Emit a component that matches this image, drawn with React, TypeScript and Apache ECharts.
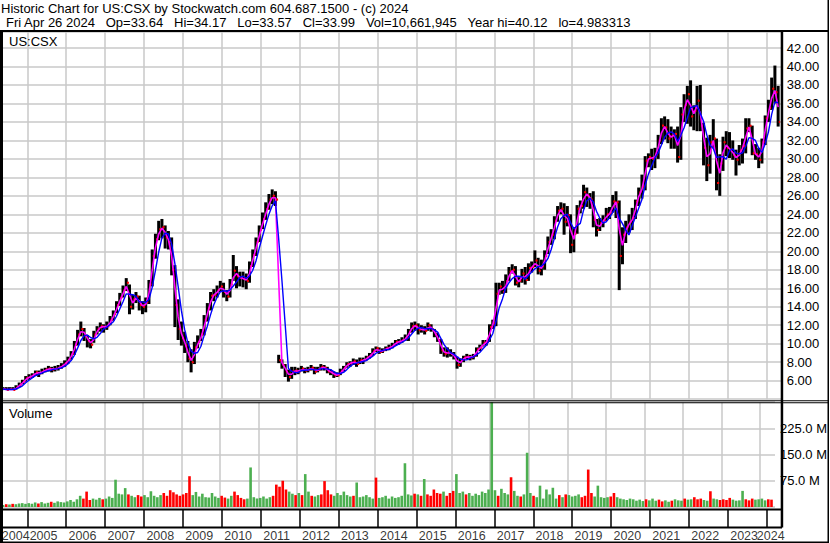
import React, { useEffect, useRef } from 'react';
import * as echarts from 'echarts';

// ---- data (monthly bars, May 2004 .. Apr 2024) ----
const FIRST_MONTH = 2004 + 4 / 12; // May 2004
const AXIS_MIN = 2004.375;
const AXIS_MAX = 2024.383;

const closes = [
  5.1, 5.0, 5.1, 5.0, 5.3, 5.6, 5.9, 6.3,
  6.4, 6.6, 6.9, 6.8, 7.0, 7.2, 7.3, 7.2, 7.3, 7.4, 7.6, 7.9,
  8.3, 8.9, 9.9, 11.0, 11.6, 10.9, 10.3, 9.9, 11.0, 11.6, 11.9, 11.8,
  11.9, 12.6, 13.2, 14.2, 15.0, 15.8, 16.6, 14.0, 14.8, 15.1, 14.2, 14.0,
  14.5, 16.4, 19.5, 21.3, 22.4, 22.6, 21.5, 21.0, 18.0, 14.2, 11.6, 10.6,
  9.8, 8.4, 8.0, 9.6, 10.2, 11.0, 12.6, 13.8, 15.2, 15.3, 15.8, 16.2,
  15.6, 15.1, 16.4, 17.9, 17.3, 17.1, 17.0, 16.8, 18.4, 19.6, 21.0, 22.3,
  23.5, 24.6, 25.6, 26.0, 25.6, 8.2, 7.7, 7.0, 6.4, 7.0, 7.1, 7.0,
  7.3, 7.1, 7.2, 7.4, 7.0, 7.2, 7.5, 7.4, 7.0, 6.9, 6.6, 6.6,
  7.0, 7.4, 7.8, 7.9, 8.1, 7.8, 8.2, 8.2, 8.5, 8.7, 9.2, 9.5,
  9.1, 9.3, 9.5, 9.6, 9.8, 10.2, 10.2, 10.4, 10.6, 11.3, 11.9, 12.0,
  11.5, 11.6, 11.4, 12.0, 11.6, 11.0, 10.4, 9.3, 8.9, 9.1, 8.9, 8.6,
  7.7, 8.2, 8.5, 8.6, 8.5, 8.7, 9.4, 9.6, 10.1, 10.2, 11.8, 12.2,
  15.4, 16.2, 15.6, 16.8, 17.8, 18.0, 16.6, 16.8, 17.6, 16.9, 18.2, 18.3,
  19.0, 17.9, 18.4, 19.5, 21.0, 21.8, 23.3, 24.4, 24.6, 23.2, 23.9, 20.7,
  21.9, 24.6, 24.9, 26.4, 26.0, 25.6, 23.4, 22.3, 23.1, 23.4, 24.0, 24.1,
  25.4, 25.3, 19.5, 21.8, 22.6, 23.2, 23.6, 25.4, 26.4, 27.0, 29.8, 30.2,
  30.0, 30.4, 32.0, 33.6, 33.4, 32.2, 32.5, 32.7, 30.2, 34.8, 35.8, 37.0,
  34.6, 35.2, 36.3, 33.6, 31.2, 29.3, 31.8, 32.2, 27.4, 29.5, 31.8, 31.2,
  31.0, 30.4, 29.9, 30.9, 31.4, 33.3, 33.6, 30.6, 30.5, 29.9, 31.8, 34.4,
  35.5, 37.6, 37.2, 34.0,
];

const highs = [
  5.3, 5.3, 5.3, 5.3, 5.5, 5.8, 6.1, 6.5,
  6.7, 6.8, 7.1, 7.1, 7.3, 7.4, 7.6, 7.5, 7.6, 7.7, 7.9, 8.2,
  8.6, 9.2, 10.3, 11.5, 12.4, 11.7, 10.9, 10.5, 11.4, 11.9, 12.3, 12.1,
  12.4, 13.0, 13.6, 14.6, 15.5, 16.3, 17.1, 16.4, 15.3, 15.6, 15.2, 14.6,
  15.0, 16.9, 20.2, 21.9, 23.3, 23.5, 22.8, 22.2, 21.5, 18.5, 14.8, 12.4,
  11.3, 10.3, 9.4, 10.2, 10.9, 11.6, 13.1, 14.4, 15.6, 15.9, 16.3, 16.8,
  16.6, 15.8, 17.0, 19.6, 18.4, 17.8, 17.8, 17.6, 18.9, 20.2, 21.5, 22.8,
  24.2, 25.3, 26.2, 26.7, 26.5, 8.8, 8.3, 7.8, 7.2, 7.5, 7.5, 7.4,
  7.6, 7.4, 7.5, 7.7, 7.5, 7.5, 7.8, 7.7, 7.5, 7.2, 7.0, 6.9,
  7.3, 7.6, 8.0, 8.1, 8.4, 8.3, 8.5, 8.5, 8.7, 9.0, 9.5, 9.7,
  9.6, 9.5, 9.7, 9.9, 10.1, 10.4, 10.5, 10.7, 11.0, 11.6, 12.3, 12.4,
  12.2, 12.0, 11.9, 12.3, 12.1, 11.6, 11.2, 10.5, 9.6, 9.6, 9.4, 9.1,
  8.6, 8.4, 8.7, 8.9, 8.8, 8.9, 9.6, 9.9, 10.4, 10.4, 12.1, 12.6,
  16.6, 16.6, 16.8, 17.5, 18.3, 18.6, 18.4, 17.2, 18.1, 18.3, 18.7, 18.9,
  20.1, 19.3, 19.1, 20.1, 21.6, 22.4, 23.8, 24.9, 25.3, 25.2, 24.9, 24.0,
  22.6, 25.0, 25.5, 27.2, 26.9, 26.3, 26.5, 23.5, 23.6, 23.9, 24.7, 24.8,
  26.1, 26.5, 25.5, 22.6, 23.3, 24.0, 24.7, 25.6, 26.9, 28.3, 30.3, 30.6,
  31.1, 31.2, 32.6, 34.4, 34.6, 34.3, 33.5, 33.2, 33.5, 35.6, 37.0, 37.9,
  38.5, 35.8, 37.9, 38.0, 33.9, 32.3, 32.6, 34.3, 32.2, 30.5, 32.4, 33.0,
  32.9, 32.0, 31.0, 31.5, 32.2, 34.4, 34.4, 33.6, 31.6, 31.2, 32.2, 34.7,
  36.4, 38.8, 40.1, 37.9,
];

const lows = [
  4.98, 4.99, 5.0, 4.99, 5.05, 5.3, 5.6, 5.9,
  6.1, 6.3, 6.5, 6.4, 6.7, 6.9, 7.0, 6.9, 7.0, 7.1, 7.3, 7.5,
  7.8, 8.3, 8.8, 9.8, 10.8, 10.3, 9.6, 9.5, 10.1, 11.0, 11.3, 11.2,
  11.5, 12.0, 12.5, 13.3, 14.1, 15.0, 15.7, 13.2, 13.7, 14.4, 13.6, 13.2,
  13.4, 14.3, 16.2, 19.2, 21.2, 21.4, 20.3, 20.2, 17.4, 11.8, 10.4, 9.8,
  9.0, 8.0, 6.9, 7.8, 9.5, 10.3, 10.9, 12.4, 13.6, 14.6, 15.0, 15.6,
  15.0, 14.6, 15.0, 16.8, 16.0, 16.2, 16.1, 15.9, 16.6, 18.3, 19.5, 21.0,
  22.4, 23.4, 24.5, 25.1, 24.9, 7.9, 7.3, 6.4, 5.9, 6.2, 6.6, 6.7,
  7.0, 6.8, 6.9, 7.1, 6.7, 6.9, 7.1, 7.1, 6.8, 6.6, 6.3, 6.4,
  6.6, 7.0, 7.4, 7.5, 7.7, 7.5, 7.8, 7.8, 8.2, 8.4, 8.7, 9.1,
  8.9, 9.0, 9.2, 9.3, 9.5, 9.8, 9.9, 10.1, 10.3, 10.3, 11.2, 11.4,
  11.0, 11.2, 11.0, 11.4, 11.3, 10.7, 10.2, 8.9, 8.6, 8.5, 8.6, 8.3,
  7.3, 7.5, 8.0, 8.3, 8.2, 8.3, 8.6, 9.2, 9.7, 9.8, 10.2, 11.6,
  11.9, 15.3, 15.4, 15.5, 16.8, 17.6, 16.3, 16.1, 16.6, 16.4, 16.8, 17.7,
  18.3, 17.5, 17.4, 18.0, 19.7, 20.7, 21.3, 23.2, 24.0, 21.8, 22.7, 19.8,
  19.9, 21.9, 24.1, 24.6, 24.8, 24.6, 22.6, 21.6, 22.2, 22.6, 23.3, 23.5,
  24.2, 23.6, 15.8, 18.6, 20.9, 22.0, 22.3, 23.5, 24.9, 25.7, 26.6, 29.1,
  28.8, 29.0, 30.0, 31.6, 32.1, 31.7, 31.1, 31.1, 29.6, 29.9, 34.0, 33.8,
  33.5, 33.1, 33.0, 33.0, 29.3, 27.6, 28.4, 31.2, 26.6, 26.0, 28.7, 30.3,
  30.1, 29.9, 28.2, 29.3, 29.5, 30.6, 32.9, 30.4, 29.9, 29.0, 29.5, 31.5,
  34.0, 35.3, 36.0, 33.5,
];

// volume in millions
const volumes = [
  6, 8, 7, 9, 8, 10, 11, 9,
  11, 9, 13, 10, 14, 10, 12, 15, 12, 16, 14, 13,
  16, 20, 15, 22, 32, 24, 44, 20, 24, 21, 26, 22,
  24, 30, 26, 78, 38, 36, 54, 36, 32, 28, 34, 30,
  34, 28, 45, 32, 28, 34, 40, 32, 48, 42, 36, 32,
  36, 40, 88, 34, 43, 30, 38, 28, 27, 40, 30, 26,
  32, 27, 24, 32, 44, 34, 26, 22, 24, 113, 28, 24,
  26, 30, 24, 28, 32, 64, 58, 75, 50, 44, 38, 34,
  40, 34, 94, 44, 32, 30, 34, 36, 74, 48, 36, 32,
  40, 34, 44, 34, 30, 32, 70, 28, 30, 34, 28, 24,
  84, 26, 28, 32, 24, 30, 26, 28, 32, 125, 36, 33,
  38, 36, 32, 80, 36, 32, 50, 40, 38, 44, 32, 40,
  46, 94, 40, 44, 36, 40, 32, 38, 34, 44, 40, 50,
  300, 48, 32, 52, 40, 36, 85, 46, 32, 30, 36, 155,
  40, 32, 28, 61, 24, 50, 36, 55, 24, 34, 28, 36,
  34, 30, 32, 36, 28, 32, 107, 40, 30, 61, 28, 26,
  28, 30, 40, 28, 24, 22, 20, 24, 22, 18, 21, 17,
  22, 19, 24, 18, 21, 16, 19, 15, 18, 22, 19, 18,
  24, 21, 22, 28, 22, 24, 20, 18, 45, 24, 22, 20,
  22, 20, 26, 21, 18, 19, 46, 22, 19, 24, 21, 22,
  24, 19, 22, 21,
];

const yearBoundaries = [2005, 2006, 2007, 2008, 2009, 2010, 2011, 2012, 2013, 2014, 2015,
  2016, 2017, 2018, 2019, 2020, 2021, 2022, 2023, 2024];
const yearLabels = ['2004', '2005', '2006', '2007', '2008', '2009', '2010', '2011', '2012', '2013',
  '2014', '2015', '2016', '2017', '2018', '2019', '2020', '2021', '2022', '2023', '2024'];

const titleLine1 = 'Historic Chart for US:CSX by Stockwatch.com 604.687.1500 - (c) 2024';
const headerFields = ['Fri Apr 26 2024', 'Op=33.64', 'Hi=34.17', 'Lo=33.57', 'Cl=33.99',
  'Vol=10,661,945', 'Year hi=40.12', 'lo=4.983313'];
const symbolLabel = 'US:CSX';
const volumeLabel = 'Volume';

// ---- helpers ----
const monthX = (i: number) => FIRST_MONTH + (i + 0.5) / 12;
const sma = (arr: number[], n: number) =>
  arr.map((_, i) => {
    const s = Math.max(0, i - n + 1);
    let sum = 0;
    for (let k = s; k <= i; k++) sum += arr[k];
    return sum / (i - s + 1);
  });

const FONT = '"Liberation Sans", Arial, sans-serif';
const GRID_COLOR = '#c8c8c8';
const UP = '#4caf50';
const DOWN = '#ff0000';

export default function App() {
  const ref = useRef<HTMLDivElement>(null);

  useEffect(() => {
    if (!ref.current) return;
    const chart = echarts.init(ref.current, undefined, { renderer: 'svg' });

    const ohlc = closes.map((c, i) => [monthX(i), highs[i], lows[i], c, i > 0 ? closes[i - 1] : c]);
    const maShort = sma(closes, 2).map((v, i) => [monthX(i), v]);
    const maLong = sma(closes, 4).map((v, i) => [monthX(i), v]);
    const vol = volumes.map((v, i) => ({
      value: [monthX(i), v],
      itemStyle: { color: i === 0 || closes[i] >= closes[i - 1] ? UP : DOWN },
    }));

    // year labels: left-aligned just after each year boundary, last one kept inside the box
    const PAD = 0.06; // years
    const TEXT_W = 0.72; // years (~28px)
    const yearLabelData = yearLabels.map((y) => {
      const yr = Number(y);
      let pos = Math.max(yr + PAD, AXIS_MIN - 0.03);
      pos = Math.min(pos, AXIS_MAX + 0.08 - TEXT_W);
      return { name: y, value: [pos, 0.5] };
    });

    const gridLeft = 3;
    const gridRight = 830 - 781.7;

    const xBase = (gridIndex: number, splitColor: string, splitWidth: number, showSplit: boolean) => ({
      type: 'value',
      gridIndex,
      min: AXIS_MIN,
      max: AXIS_MAX,
      axisLine: { show: false },
      axisTick: { show: false, customValues: yearBoundaries },
      splitLine: { show: showSplit, lineStyle: { color: splitColor, width: splitWidth } },
      axisLabel: { show: false },
    });

    const headerText = headerFields.join('\u00a0\u00a0\u00a0');

    const rect = (x: number, y: number, w: number, h: number) => ({
      type: 'rect',
      shape: { x, y, width: w, height: h },
      style: { fill: '#000' },
      z: 100,
      silent: true,
    });
    const text = (t: string, x: number, y: number) => ({
      type: 'text',
      x,
      y,
      z: 100,
      style: { text: t, font: `13px ${FONT}`, fill: '#000', verticalAlign: 'middle', align: 'left' },
    });

    chart.setOption({
      animation: false,
      backgroundColor: '#ffffff',
      textStyle: { fontFamily: FONT },
      grid: [
        { left: gridLeft, right: gridRight, top: 31.37, height: 367.8 },
        { left: gridLeft, right: gridRight, top: 402, height: 105 },
        { left: gridLeft, right: gridRight, top: 509.5, height: 18 },
        { left: gridLeft, right: gridRight, top: 528.5, height: 15 },
      ],
      xAxis: [
        xBase(0, GRID_COLOR, 1.5, true),
        xBase(1, GRID_COLOR, 1.5, true),
        xBase(2, '#000', 1.5, true),
        xBase(3, '#000', 1, false),
      ],
      yAxis: [
        {
          type: 'value',
          gridIndex: 0,
          position: 'right',
          min: 4,
          max: 43.8,
          interval: 2,
          axisLine: { show: false },
          axisTick: { show: false },
          splitLine: { show: true, lineStyle: { color: GRID_COLOR, width: 1.5 } },
          axisLabel: {
            margin: 5,
            fontSize: 13,
            fontFamily: FONT,
            color: '#000',
            formatter: (v: number) => (v >= 6 && v <= 42 && Math.abs(v - Math.round(v)) < 1e-6 ? v.toFixed(2) : ''),
          },
        },
        {
          type: 'value',
          gridIndex: 1,
          position: 'right',
          min: 0,
          max: 300,
          interval: 75,
          axisLine: { show: false },
          axisTick: { show: false },
          splitLine: { show: true, lineStyle: { color: GRID_COLOR, width: 1.5 } },
          axisLabel: {
            margin: 5,
            fontSize: 13,
            fontFamily: FONT,
            color: '#000',
            formatter: (v: number) => (v > 0 && v < 300 ? v.toFixed(1) + ' M' : ''),
          },
        },
        { type: 'value', gridIndex: 2, min: 0, max: 1, show: false, splitLine: { show: false } },
        { type: 'value', gridIndex: 3, min: 0, max: 1, show: false, splitLine: { show: false } },
      ],
      series: [
        {
          type: 'custom',
          xAxisIndex: 0,
          yAxisIndex: 0,
          data: ohlc,
          encode: { x: 0, y: [1, 2, 3] },
          renderItem: (_p: any, api: any) => {
            const x = api.value(0);
            const top = api.coord([x, api.value(1)]);
            const bot = api.coord([x, api.value(2)]);
            const pc = api.coord([x, api.value(3)]);
            const po = api.coord([x, api.value(4)]);
            return {
              type: 'group',
              children: [
                {
                  type: 'rect',
                  shape: { x: top[0] - 1.5, y: top[1], width: 3.0, height: Math.max(1, bot[1] - top[1]) },
                  style: { fill: '#000' },
                },
                {
                  type: 'rect',
                  shape: { x: pc[0] + 0.6, y: pc[1] - 1, width: 1.4, height: 2 },
                  style: { fill: DOWN },
                },
                {
                  type: 'rect',
                  shape: { x: po[0] - 2.0, y: po[1] - 1, width: 1.4, height: 2 },
                  style: { fill: DOWN },
                },
              ],
            };
          },
          z: 2,
        },
        {
          type: 'line',
          xAxisIndex: 0,
          yAxisIndex: 0,
          data: maShort,
          showSymbol: false,
          lineStyle: { color: '#ff00ff', width: 1.6 },
          itemStyle: { color: '#ff00ff' },
          z: 3,
        },
        {
          type: 'line',
          xAxisIndex: 0,
          yAxisIndex: 0,
          data: maLong,
          showSymbol: false,
          lineStyle: { color: '#0000ff', width: 1.4 },
          itemStyle: { color: '#0000ff' },
          z: 4,
        },
        {
          type: 'bar',
          xAxisIndex: 1,
          yAxisIndex: 1,
          data: vol,
          barWidth: 2.6,
          z: 2,
        },
        {
          type: 'scatter',
          xAxisIndex: 3,
          yAxisIndex: 3,
          data: yearLabelData,
          symbolSize: 0,
          clip: false,
          silent: true,
          label: {
            show: true,
            position: 'inside',
            align: 'left',
            verticalAlign: 'middle',
            formatter: '{b}',
            fontSize: 12.5,
            fontFamily: FONT,
            color: '#000',
          },
          labelLayout: { hideOverlap: false },
          z: 5,
        },
      ],
      graphic: [
        text(titleLine1, 1, 8.5),
        text(headerText, 6, 22),
        text(symbolLabel, 9, 41),
        text(volumeLabel, 9, 413),
        rect(0, 30, 829, 2),
        rect(827.5, 0, 1.5, 31),
        rect(0, 30, 3, 513),
        rect(780.7, 30, 2.5, 497.5),
        rect(827.5, 30, 1.5, 513),
        rect(0, 400.2, 829, 1),
        rect(0, 402.2, 829, 1),
        rect(0, 508.5, 782, 2),
        rect(0, 526.5, 782, 2),
        rect(0, 541.5, 829, 1.5),
      ],
    });

    return () => chart.dispose();
  }, []);

  return (
    <div
      ref={ref}
      style={{ position: 'fixed', left: 0, top: 0, width: 830, height: 543, background: '#fff' }}
    />
  );
}
